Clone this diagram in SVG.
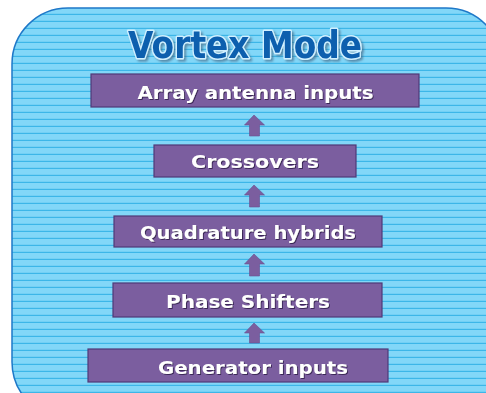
<svg xmlns="http://www.w3.org/2000/svg" width="486" height="393" viewBox="0 0 486 393">
<defs>
<pattern id="stripes" x="0" y="1" width="10" height="7" patternUnits="userSpaceOnUse">
<rect width="10" height="7" fill="#82d7f8"/>
<rect y="5.8" width="10" height="1.2" fill="#3cb6e8"/>
</pattern>
<filter id="ds" x="-10%" y="-30%" width="120%" height="160%">
<feDropShadow dx="1" dy="1" stdDeviation="0.6" flood-color="#2a1a45" flood-opacity="0.8"/>
</filter>
<filter id="tds" x="-10%" y="-30%" width="120%" height="160%">
<feDropShadow dx="2" dy="2" stdDeviation="1" flood-color="#3a5a78" flood-opacity="0.6"/>
</filter>
</defs>
<style>
.box{fill:#7b5e9f;stroke:#4f3a78;stroke-width:1.2}
.lbl{font-family:"DejaVu Sans","Liberation Sans",sans-serif;font-weight:bold;font-size:18px;fill:#ffffff;text-anchor:middle;filter:url(#ds)}
.arr{fill:#7b5e9f;stroke:#6a4f90;stroke-width:0.6}
.title{font-family:"DejaVu Sans","Liberation Sans",sans-serif;font-weight:bold;font-size:37px;text-anchor:middle;fill:#0b5fae;stroke:#d0f0ff;stroke-width:3;paint-order:stroke;stroke-linejoin:round;filter:url(#tds)}
</style>
<rect x="12" y="8" width="490" height="410" rx="56" ry="56" fill="url(#stripes)" stroke="#1e78c8" stroke-width="1.5"/>
<g id="title">
<text class="title" x="245" y="58" textLength="234" lengthAdjust="spacingAndGlyphs">Vortex Mode</text>
</g>
<g id="connectors">
<path class="arr" d="M254 115 L264.5 125 L259.5 125 L259.5 136 L249.5 136 L249.5 125 L244.5 125 Z"/>
<path class="arr" d="M254 185 L264.5 195 L259.5 195 L259.5 207 L249.5 207 L249.5 195 L244.5 195 Z"/>
<path class="arr" d="M254 254 L264.5 264 L259.5 264 L259.5 276 L249.5 276 L249.5 264 L244.5 264 Z"/>
<path class="arr" d="M254 323 L264.5 333 L259.5 333 L259.5 343 L249.5 343 L249.5 333 L244.5 333 Z"/>
</g>
<g id="array">
<rect class="box" x="91" y="74" width="328" height="33"/>
<text class="lbl" x="255.5" y="98.5" textLength="236" lengthAdjust="spacingAndGlyphs">Array antenna inputs</text>
</g>
<g id="crossovers">
<rect class="box" x="154" y="145" width="202" height="32"/>
<text class="lbl" x="255" y="168" textLength="128" lengthAdjust="spacingAndGlyphs">Crossovers</text>
</g>
<g id="quadrature">
<rect class="box" x="114" y="216" width="268" height="31"/>
<text class="lbl" x="248" y="239" textLength="216" lengthAdjust="spacingAndGlyphs">Quadrature hybrids</text>
</g>
<g id="phase">
<rect class="box" x="113" y="283" width="269" height="34"/>
<text class="lbl" x="248" y="308" textLength="164" lengthAdjust="spacingAndGlyphs">Phase Shifters</text>
</g>
<g id="generator">
<rect class="box" x="88" y="349" width="300" height="33"/>
<text class="lbl" x="253" y="374" textLength="190" lengthAdjust="spacingAndGlyphs">Generator inputs</text>
</g>
</svg>
